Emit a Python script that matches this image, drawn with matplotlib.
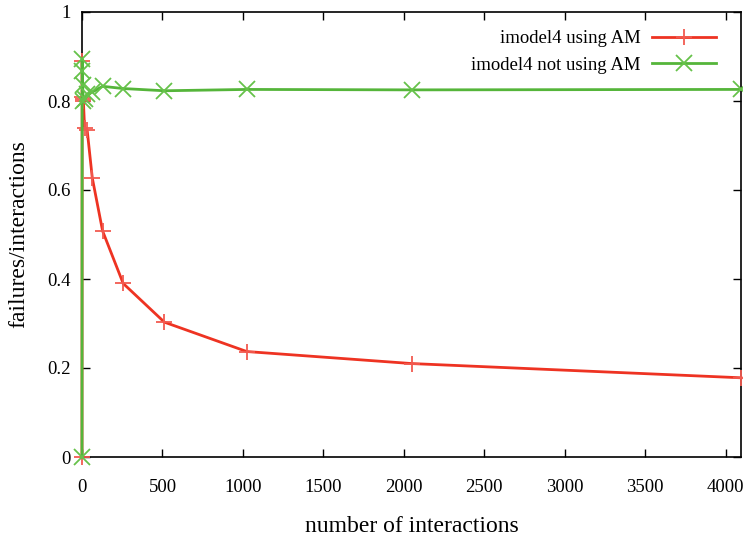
import matplotlib
matplotlib.use("Agg")
import matplotlib.pyplot as plt

x = [0, 1, 2, 4, 8, 16, 32, 64, 128, 256, 512, 1024, 2048, 4096]
using_am = [0.0, 0.89, 0.81, 0.80, 0.805, 0.74, 0.735, 0.627, 0.508, 0.39, 0.303, 0.237, 0.21, 0.178]
not_using_am = [0.0, 0.895, 0.868, 0.835, 0.80, 0.805, 0.815, 0.82, 0.833, 0.828, 0.823, 0.826, 0.825, 0.826]
xticks = [0, 500, 1000, 1500, 2000, 2500, 3000, 3500, 4000]
yticks = [0, 0.2, 0.4, 0.6, 0.8, 1]
ytick_labels = ["0", "0.2", "0.4", "0.6", "0.8", "1"]

plt.rcParams['font.family'] = ['Liberation Serif', 'DejaVu Serif']

fig = plt.figure(figsize=(7.43, 5.38), dpi=100)
ax = fig.add_axes([82/743, 1-457/538, (741-82)/743, (457-12)/538])

red = '#ee3322'
green = '#55b53a'
ax.plot(x, using_am, color=red, lw=2.0, marker='+', markersize=12, markeredgewidth=1.3,
        markeredgecolor='#f25a50', label='imodel4 using AM', clip_on=False, zorder=3)
ax.plot(x, not_using_am, color=green, lw=2.0, marker='x', markersize=11, markeredgewidth=1.3,
        markeredgecolor='#66c24a', label='imodel4 not using AM', clip_on=False, zorder=3)

ax.set_xlim(0, 4096)
ax.set_ylim(0, 1)
ax.set_xticks(xticks)
ax.set_yticks(yticks)
ax.set_yticklabels(ytick_labels)
ax.tick_params(direction='in', top=True, right=True, length=6, width=1, labelsize=13.5)
ax.tick_params(axis='x', pad=16)
ax.tick_params(axis='y', pad=8)
ax.set_xlabel('number of interactions', fontsize=17, labelpad=14)
ax.set_ylabel('failures/interactions', fontsize=17, labelpad=13)
for s in ax.spines.values():
    s.set_linewidth(1.2)

leg = ax.legend(loc='upper right', bbox_to_anchor=(0.962, 0.959), frameon=False,
                markerfirst=False, fontsize=13.5, handlelength=3.4, handletextpad=0.6,
                borderaxespad=0, borderpad=0, labelspacing=0.5)

fig.savefig('out.png', dpi=100)
